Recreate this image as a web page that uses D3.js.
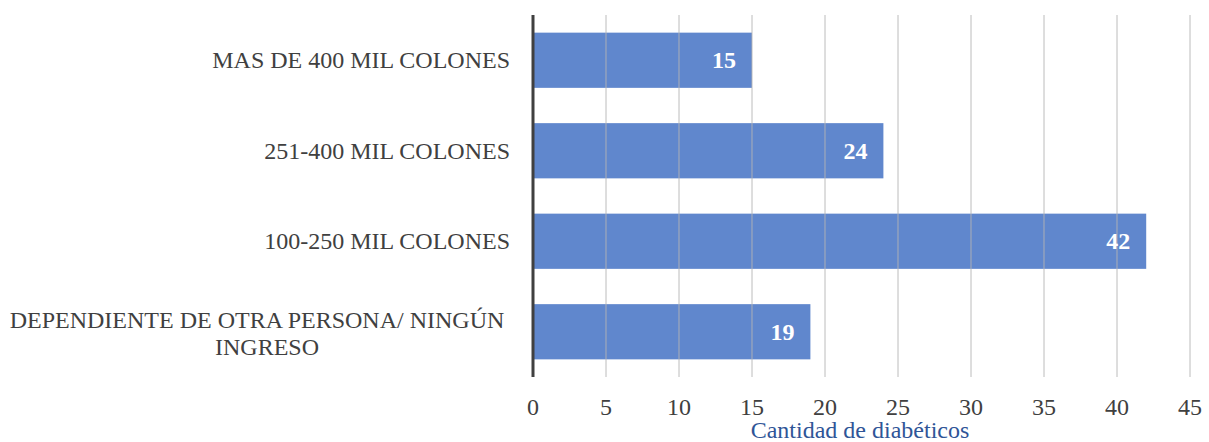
<!DOCTYPE html>
<html>
<head>
<meta charset="utf-8">
<script src="https://cdn.jsdelivr.net/npm/d3@7"></script>
<style>
  html, body { margin: 0; padding: 0; background: #fff; }
  svg { display: block; }
  text { font-family: "Liberation Serif", "Times New Roman", serif; }
</style>
</head>
<body>
<script>
// Income brackets (top to bottom) and number of diabetic patients in each
const categories = [
  "MAS DE 400 MIL COLONES",
  "251-400 MIL COLONES",
  "100-250 MIL COLONES",
  "DEPENDIENTE DE OTRA PERSONA/ NINGÚN INGRESO"
];
const values = [15, 24, 42, 19];
const xTicks = [0, 5, 10, 15, 20, 25, 30, 35, 40, 45];
const xTitle = "Cantidad de diabéticos";

// Category labels that wrap onto two lines
const labelLines = {
  "DEPENDIENTE DE OTRA PERSONA/ NINGÚN INGRESO": ["DEPENDIENTE DE OTRA PERSONA/ NINGÚN", "INGRESO"]
};

const W = 1209, H = 442;
const margin = { left: 533, right: 19, top: 15, bottom: 65 };
const FS = 24;

const svg = d3.select("body").append("svg")
  .attr("width", W).attr("height", H);

const x = d3.scaleLinear().domain([0, 45]).range([margin.left, W - margin.right]);
const y = d3.scaleBand().domain(categories)
  .range([margin.top, H - margin.bottom]).paddingInner(0.39).paddingOuter(0.195);

// Bars
svg.append("g").selectAll("rect").data(values).join("rect")
  .attr("x", x(0))
  .attr("y", (d, i) => y(categories[i]))
  .attr("width", d => x(d) - x(0))
  .attr("height", y.bandwidth())
  .attr("fill", "#4472C4")
  .attr("fill-opacity", 0.85);

// Vertical gridlines (drawn over bars, faint)
svg.append("g").selectAll("line").data(xTicks.filter(t => t > 0)).join("line")
  .attr("x1", d => x(d)).attr("x2", d => x(d))
  .attr("y1", margin.top).attr("y2", H - margin.bottom)
  .attr("stroke", "#b4b4b4").attr("stroke-opacity", 0.75).attr("stroke-width", 1.2);

// Category axis line
svg.append("line")
  .attr("x1", x(0)).attr("x2", x(0))
  .attr("y1", margin.top).attr("y2", H - margin.bottom)
  .attr("stroke", "#404040").attr("stroke-width", 3);

// X tick labels
svg.append("g").selectAll("text").data(xTicks).join("text")
  .attr("x", d => x(d))
  .attr("y", 415)
  .attr("text-anchor", "middle")
  .attr("font-size", FS)
  .attr("fill", "#404040")
  .text(d => d);

// X axis title
svg.append("text")
  .attr("x", 860)
  .attr("y", 438)
  .attr("text-anchor", "middle")
  .attr("font-size", FS)
  .attr("fill", "#2F5597")
  .text(xTitle);

// Category labels
const catG = svg.append("g");
categories.forEach(c => {
  const cy = y(c) + y.bandwidth() / 2;
  const lines = labelLines[c];
  if (lines) {
    const t = catG.append("text")
      .attr("text-anchor", "middle")
      .attr("font-size", FS)
      .attr("fill", "#404040");
    lines.forEach((ln, k) => {
      t.append("tspan")
        .attr("x", 257 + (k === 1 ? 10 : 0))
        .attr("y", cy - 4 + k * 27)
        .text(ln);
    });
  } else {
    catG.append("text")
      .attr("x", 510)
      .attr("y", cy + 8)
      .attr("text-anchor", "end")
      .attr("font-size", FS)
      .attr("fill", "#404040")
      .text(c);
  }
});

// Value labels inside bar ends
svg.append("g").selectAll("text").data(values).join("text")
  .attr("x", d => x(d) - 16)
  .attr("y", (d, i) => y(categories[i]) + y.bandwidth() / 2 + 8)
  .attr("text-anchor", "end")
  .attr("font-size", FS)
  .attr("font-weight", "bold")
  .attr("fill", "#fff")
  .text(d => d);
</script>
</body>
</html>
